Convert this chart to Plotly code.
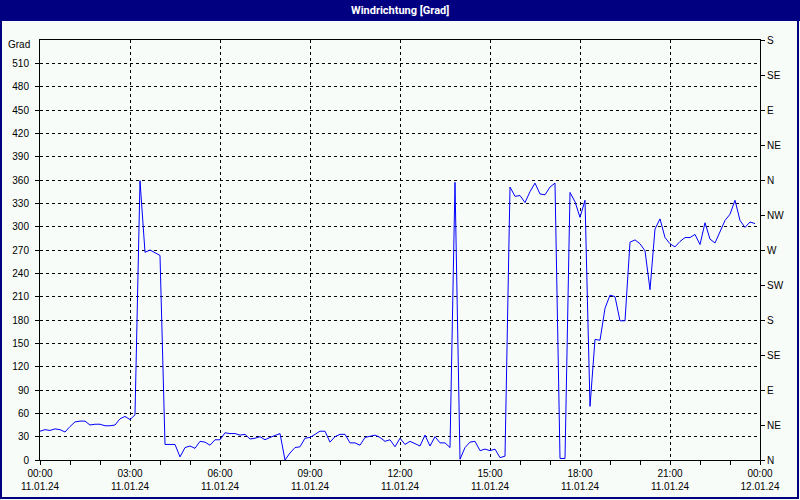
import plotly.graph_objects as go
import pandas as pd

# ---- data (10-minute wind direction readings, degrees) ----
start_time = "2024-01-11 00:00"
interval = "10min"
direction_deg = [
    37, 39, 38, 40, 39, 36, 43, 49, 50, 50,
    45, 46, 46, 44, 44, 45, 53, 56, 52, 58,
    359, 267, 270, 267, 263, 20, 20, 20, 4, 16,
    18, 15, 24, 23, 19, 26, 26, 35, 34, 34,
    32, 33, 27, 28, 30, 26, 29, 31, 34, 0,
    9, 16, 17, 28, 29, 33, 37, 37, 23, 30,
    33, 33, 22, 22, 19, 29, 31, 32, 29, 24,
    26, 17, 28, 20, 24, 21, 18, 32, 18, 30,
    22, 22, 16, 357, 1, 16, 23, 24, 12, 14,
    12, 14, 3, 5, 351, 339, 340, 331, 345, 356,
    342, 341, 351, 356, 2, 2, 344, 332, 312, 334,
    69, 155, 154, 195, 212, 210, 179, 179, 280, 283,
    278, 269, 219, 297, 310, 286, 278, 274, 281, 286,
    286, 290, 277, 305, 284, 279, 293, 308, 316, 334,
    308, 299, 306, 304,
]
times = pd.date_range(start_time, periods=len(direction_deg), freq=interval)

x_range = ["2024-01-11 00:00", "2024-01-12 00:00"]
x_tick_times = pd.date_range(x_range[0], x_range[1], freq="3h")
x_tick_labels = [t.strftime("%H:%M") + "<br>" + t.strftime("%d.%m.%y") for t in x_tick_times]

y_ticks = list(range(0, 511, 30))
y_max = 540
compass_vals = list(range(0, 541, 45))
compass_labels = ["N", "NE", "E", "SE", "S", "SW", "W", "NW", "N", "NE", "E", "SE", "S"]

title_text = "Windrichtung [Grad]"
unit_label = "Grad"

# ---- layout geometry ----
W, H = 800, 500
ML, MR, MT, MB = 40, 40, 40, 40
PW, PH = W - ML - MR, H - MT - MB

NAVY = "#000080"
BG = "#F8FCF8"
FONT = "Liberation Sans"

fig = go.Figure()
fig.add_trace(go.Scatter(
    x=times, y=direction_deg, mode="lines",
    line=dict(color="#0000FF", width=1),
    showlegend=False, hoverinfo="x+y",
))
fig.add_trace(go.Scatter(
    x=times, y=direction_deg, mode="lines", yaxis="y2",
    line=dict(color="#0000FF", width=1), opacity=0,
    showlegend=False, hoverinfo="skip",
))

axis_common = dict(
    showline=True, linecolor="black", linewidth=1,
    ticks="outside", ticklen=4, tickcolor="black", tickwidth=1,
    tickfont=dict(family=FONT, size=10, color="black"),
    zeroline=False, automargin=False,
)

fig.update_layout(
    width=W, height=H,
    margin=dict(l=ML, r=MR, t=MT, b=MB, pad=0),
    paper_bgcolor=BG, plot_bgcolor=BG,
    font=dict(family=FONT, size=10, color="black"),
    showlegend=False,
    xaxis=dict(
        **axis_common,
        type="date", range=x_range,
        tickmode="array", tickvals=x_tick_times, ticktext=x_tick_labels,
        mirror=True,
        showgrid=True, gridcolor="black", gridwidth=1, griddash="3px,3px",
        minor=dict(tickmode="linear", tick0=x_range[0], dtick=3600000,
                   ticks="outside", ticklen=4, tickcolor="black", showgrid=False),
    ),
    yaxis=dict(
        **axis_common,
        range=[0, y_max], tickmode="array", tickvals=y_ticks,
        mirror=True, ticklabelstandoff=4,
        showgrid=True, gridcolor="black", gridwidth=1, griddash="3px,3px",
    ),
    yaxis2=dict(
        **axis_common,
        range=[0, y_max], tickmode="array", tickvals=compass_vals, ticktext=compass_labels,
        overlaying="y", side="right", anchor="x", showgrid=False,
    ),
    shapes=[
        dict(type="rect", xref="paper", yref="paper",
             x0=-ML / PW, x1=1 + MR / PW, y0=1 + (MT - 21) / PH, y1=1 + MT / PH,
             fillcolor=NAVY, line=dict(width=0), layer="above"),
        dict(type="rect", xref="paper", yref="paper",
             x0=-(ML - 1) / PW, x1=1 + (MR - 2) / PW, y0=-(MB - 2) / PH, y1=1 + (MT - 1) / PH,
             fillcolor="rgba(0,0,0,0)", line=dict(color=NAVY, width=2), layer="above"),
    ],
    annotations=[
        dict(text=f"<b>{title_text}</b>", xref="paper", yref="paper",
             x=0.5, y=1 + (MT - 10) / PH, xanchor="center", yanchor="middle",
             showarrow=False, font=dict(family="Roboto", size=11, color="white")),
        dict(text=unit_label, xref="paper", yref="paper",
             x=(32 - ML) / PW, y=1 - 5 / PH, xanchor="right", yanchor="middle",
             showarrow=False, font=dict(family=FONT, size=10, color="black")),
    ],
)

fig.write_html(
    "out.html",
    config={"displayModeBar": False},
    post_script="document.body.style.margin='0px';document.body.style.overflow='hidden';",
)
